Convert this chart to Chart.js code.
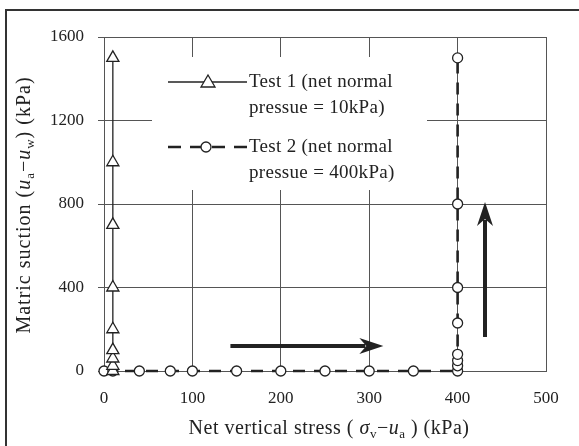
<!DOCTYPE html>
<html>
<head>
<meta charset="utf-8">
<script src="https://cdn.jsdelivr.net/npm/chart.js@4.4.1/dist/chart.umd.min.js"></script>
<style>
  html, body { margin: 0; padding: 0; background: #fff; }
  #wrap { position: relative; width: 579px; height: 446px; }
  #frame { position: absolute; left: 5px; top: 9px; right: 0; bottom: 0;
           border-top: 2px solid #333; border-left: 2px solid #333; }
  canvas { position: absolute; left: 0; top: 0; }
</style>
</head>
<body>
<div id="wrap">
  <div id="frame"></div>
  <canvas id="chart" width="579" height="446"></canvas>
</div>
<script>
// Test 1: net normal pressure 10 kPa, suction raised at constant stress
const test1Stress = [10, 10, 10, 10, 10, 10, 10, 10, 10];
const test1Suction = [0, 25, 60, 100, 200, 400, 700, 1000, 1500];

// Test 2: loaded to 400 kPa at zero suction, then suction raised
const test2Stress = [0, 10, 40, 75, 100, 150, 200, 250, 300, 350, 400, 400, 400, 400, 400, 400, 400, 400];
const test2Suction = [0, 0, 0, 0, 0, 0, 0, 0, 0, 0, 0, 25, 50, 80, 230, 400, 800, 1500];

const xTicks = [0, 100, 200, 300, 400, 500];
const yTicks = [0, 400, 800, 1200, 1600];

const legendLabels = [
    ['Test 1 (net normal', 'pressue = 10kPa)'],
    ['Test 2 (net normal', 'pressue = 400kPa)']
];

// arrows in data units [x0, y0, x1, y1]
const arrows = [
    [143, 120, 316, 120],
    [431, 163, 431, 810]
];

const FAMILY = '"Liberation Serif", "DejaVu Serif", serif';
const INK = '#222';

function toPoints(xs, ys) {
    return xs.map((x, i) => ({ x: x, y: ys[i] }));
}

function fontOf(run) {
    const size = run.sub ? 13 : 20;
    return (run.it ? 'italic ' : '') + size + 'px ' + FAMILY;
}

// draws a line of mixed italic / subscript text centred on (x, y)
function drawRuns(ctx, runs, x, y, rotate, spacing) {
    ctx.save();
    ctx.letterSpacing = spacing + 'px';
    let total = 0;
    runs.forEach(r => { ctx.font = fontOf(r); total += ctx.measureText(r.t).width; });
    ctx.translate(x, y);
    if (rotate) ctx.rotate(-Math.PI / 2);
    ctx.fillStyle = INK;
    ctx.textAlign = 'left';
    ctx.textBaseline = 'alphabetic';
    let cx = -total / 2;
    runs.forEach(r => {
        ctx.font = fontOf(r);
        ctx.fillText(r.t, cx, r.sub ? 4 : 0);
        cx += ctx.measureText(r.t).width;
    });
    ctx.restore();
}

function drawArrow(ctx, x0, y0, x1, y1) {
    const ang = Math.atan2(y1 - y0, x1 - x0);
    const head = 24, half = 8;
    const bx = x1 - head * Math.cos(ang), by = y1 - head * Math.sin(ang);
    ctx.save();
    ctx.strokeStyle = INK;
    ctx.fillStyle = INK;
    ctx.lineWidth = 4;
    ctx.beginPath();
    ctx.moveTo(x0, y0);
    ctx.lineTo(bx + 6 * Math.cos(ang), by + 6 * Math.sin(ang));
    ctx.stroke();
    ctx.beginPath();
    ctx.moveTo(x1, y1);
    ctx.lineTo(bx - half * Math.sin(ang), by + half * Math.cos(ang));
    ctx.lineTo(bx + 7 * Math.cos(ang), by + 7 * Math.sin(ang));
    ctx.lineTo(bx + half * Math.sin(ang), by - half * Math.cos(ang));
    ctx.closePath();
    ctx.fill();
    ctx.restore();
}

const annotate = {
    id: 'annotate',
    beforeDatasetsDraw(chart) {
        const ctx = chart.ctx;
        const a = chart.chartArea;
        const lx = a.left + 48, ly = a.top + 20;
        // white legend box hides the grid behind it
        ctx.save();
        ctx.fillStyle = '#fff';
        ctx.fillRect(lx, ly, 275, 133);

        // test 1 sample
        ctx.strokeStyle = INK;
        ctx.lineWidth = 1.3;
        ctx.beginPath();
        ctx.moveTo(lx + 16, ly + 25);
        ctx.lineTo(lx + 95, ly + 25);
        ctx.stroke();
        ctx.fillStyle = '#fff';
        ctx.beginPath();
        ctx.moveTo(lx + 56, ly + 18);
        ctx.lineTo(lx + 63, ly + 30);
        ctx.lineTo(lx + 49, ly + 30);
        ctx.closePath();
        ctx.fill();
        ctx.stroke();

        // test 2 sample
        ctx.lineWidth = 2.6;
        ctx.setLineDash([13, 9]);
        ctx.beginPath();
        ctx.moveTo(lx + 16, ly + 90);
        ctx.lineTo(lx + 95, ly + 90);
        ctx.stroke();
        ctx.setLineDash([]);
        ctx.lineWidth = 1.3;
        ctx.beginPath();
        ctx.arc(lx + 54, ly + 90, 5, 0, Math.PI * 2);
        ctx.fill();
        ctx.stroke();

        ctx.fillStyle = INK;
        ctx.font = '19px ' + FAMILY;
        ctx.letterSpacing = '0.3px';
        ctx.textBaseline = 'middle';
        ctx.textAlign = 'left';
        ctx.fillText(legendLabels[0][0], lx + 97, ly + 25);
        ctx.fillText(legendLabels[0][1], lx + 97, ly + 51);
        ctx.fillText(legendLabels[1][0], lx + 97, ly + 90);
        ctx.fillText(legendLabels[1][1], lx + 97, ly + 116);
        ctx.restore();
    },
    afterDraw(chart) {
        const ctx = chart.ctx;
        const xs = chart.scales.x, ys = chart.scales.y;
        arrows.forEach(p => {
            drawArrow(ctx, xs.getPixelForValue(p[0]), ys.getPixelForValue(p[1]),
                xs.getPixelForValue(p[2]), ys.getPixelForValue(p[3]));
        });

        drawRuns(ctx, [
            { t: 'Net vertical stress ( ' },
            { t: 'σ', it: true },
            { t: 'v', sub: true },
            { t: '−' },
            { t: 'u', it: true },
            { t: 'a', sub: true },
            { t: ' ) (kPa)' }
        ], 329, 434, false, 0.5);

        drawRuns(ctx, [
            { t: 'Matric suction (' },
            { t: 'u', it: true },
            { t: 'a', sub: true },
            { t: '−' },
            { t: 'u', it: true },
            { t: 'w', sub: true },
            { t: ') (kPa)' }
        ], 30, 205, true, 1);
    }
};

new Chart(document.getElementById('chart'), {
    type: 'scatter',
    data: {
        datasets: [{
            label: legendLabels[0].join(' '),
            data: toPoints(test1Stress, test1Suction),
            showLine: true,
            clip: false,
            borderColor: INK,
            borderWidth: 1.3,
            pointStyle: 'triangle',
            pointRadius: 7,
            pointBorderWidth: 1.3,
            pointBackgroundColor: '#fff',
            pointBorderColor: INK
        }, {
            label: legendLabels[1].join(' '),
            data: toPoints(test2Stress, test2Suction),
            showLine: true,
            clip: false,
            borderColor: INK,
            borderWidth: 2.6,
            borderDash: [12, 9],
            pointStyle: 'circle',
            pointRadius: 5,
            pointBorderWidth: 1.3,
            pointBackgroundColor: '#fff',
            pointBorderColor: INK
        }]
    },
    options: {
        responsive: false,
        animation: false,
        layout: { padding: { top: 37, right: 33, left: 0, bottom: 0 } },
        plugins: {
            legend: { display: false },
            tooltip: { enabled: false }
        },
        scales: {
            x: {
                type: 'linear',
                min: xTicks[0],
                max: xTicks[xTicks.length - 1],
                afterBuildTicks: s => { s.ticks = xTicks.map(v => ({ value: v })); },
                afterFit: s => { s.height = 75; },
                ticks: { color: INK, padding: 17, font: { family: FAMILY, size: 17 },
                         callback: v => String(v) },
                grid: { color: '#555', lineWidth: 1, drawTicks: false },
                border: { color: '#555' }
            },
            y: {
                type: 'linear',
                min: yTicks[0],
                max: yTicks[yTicks.length - 1],
                afterBuildTicks: s => { s.ticks = yTicks.map(v => ({ value: v })); },
                afterFit: s => { s.width = 104; },
                ticks: { color: INK, padding: 14, font: { family: FAMILY, size: 17 },
                         callback: v => String(v) },
                grid: { color: '#555', lineWidth: 1, tickLength: 6 },
                border: { color: '#555' }
            }
        }
    },
    plugins: [annotate]
});
</script>
</body>
</html>
